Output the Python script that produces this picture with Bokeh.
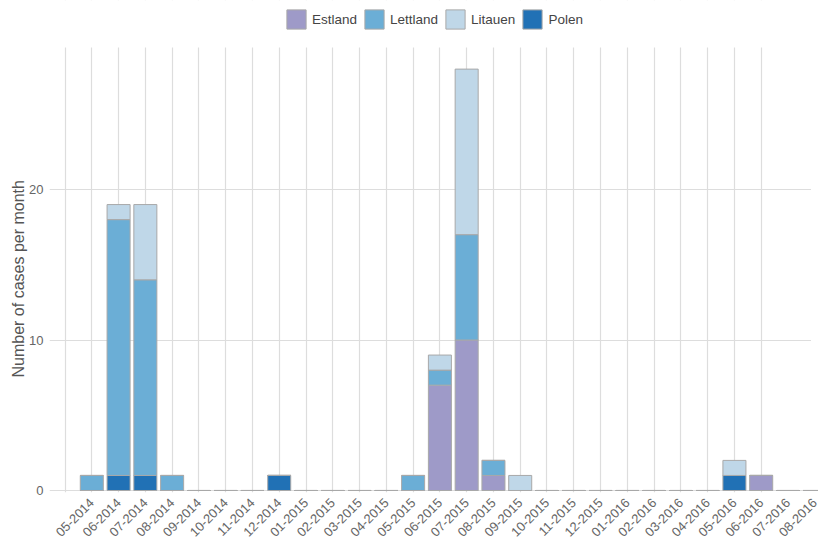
from math import pi
from bokeh.plotting import figure
from bokeh.models import Range1d, FixedTicker, Legend, LegendItem, ColumnDataSource, Title, BoxAnnotation
from bokeh.embed import file_html
from bokeh.resources import INLINE

months = ["05-2014", "06-2014", "07-2014", "08-2014", "09-2014", "10-2014", "11-2014",
          "12-2014", "01-2015", "02-2015", "03-2015", "04-2015", "05-2015", "06-2015",
          "07-2015", "08-2015", "09-2015", "10-2015", "11-2015", "12-2015", "01-2016",
          "02-2016", "03-2016", "04-2016", "05-2016", "06-2016", "07-2016", "08-2016"]
estland  = [0, 0, 0, 0, 0, 0, 0, 0, 0, 0, 0, 0, 0, 7, 10, 1, 0, 0, 0, 0, 0, 0, 0, 0, 0, 1, 0, 0]
lettland = [1, 17, 13, 1, 0, 0, 0, 0, 0, 0, 0, 0, 1, 1, 7, 1, 0, 0, 0, 0, 0, 0, 0, 0, 0, 0, 0, 0]
litauen  = [0, 1, 5, 0, 0, 0, 0, 0, 0, 0, 0, 0, 0, 1, 11, 0, 1, 0, 0, 0, 0, 0, 0, 0, 1, 0, 0, 0]
polen    = [0, 1, 1, 0, 0, 0, 0, 1, 0, 0, 0, 0, 0, 0, 0, 0, 0, 0, 0, 0, 0, 0, 0, 0, 1, 0, 0, 0]
y_ticks = [0, 10, 20]

colors = {"Estland": "#9e9ac8", "Lettland": "#6baed6", "Litauen": "#bfd7e8", "Polen": "#2171b5"}
FONT = "Liberation Sans"

x = list(range(len(months)))
src = ColumnDataSource(dict(x=x, Estland=estland, Lettland=lettland, Litauen=litauen, Polen=polen))

W, H = 818, 543
BL, BB = 49, 51
FH = H - BB
X0, X1 = -1.58, 27.14
Y0, Y1 = -0.133, 32.56
GRID_TOP, GRID_RIGHT = 29.43, 26.86

p = figure(width=W, height=H, output_backend="svg", toolbar_location=None,
           x_range=Range1d(X0, X1), y_range=Range1d(Y0, Y1),
           min_border_left=BL, min_border_right=0, min_border_top=0, min_border_bottom=BB)
p.outline_line_color = None
p.background_fill_color = "white"

stack = ["Polen", "Estland", "Lettland", "Litauen"]
rs = p.vbar_stack(stack, x="x", width=0.86, source=src,
                  color=[colors[s] for s in stack], line_color="#a8a8a8", line_width=1)
rmap = dict(zip(stack, rs))

# hide grid lines above the plotting area (legend zone) and right of the panel
p.add_layout(BoxAnnotation(left=X0, right=X1, bottom=GRID_TOP, top=Y1,
                           fill_color="white", fill_alpha=1, line_color=None, line_alpha=0))
p.add_layout(BoxAnnotation(left=GRID_RIGHT, right=X1, bottom=0.5, top=Y1,
                           fill_color="white", fill_alpha=1, line_color=None, line_alpha=0))

legend = Legend(items=[LegendItem(label=s, renderers=[rmap[s]]) for s in ["Estland", "Lettland", "Litauen", "Polen"]],
                orientation="horizontal", location=(235, FH - 31))
legend.glyph_width = 24
legend.glyph_height = 24
legend.label_standoff = 4
legend.spacing = 5
legend.padding = 0
legend.margin = 0
legend.label_text_font = FONT
legend.label_text_font_size = "13.5px"
legend.label_text_color = "#444444"
legend.border_line_color = None
legend.background_fill_alpha = 0
p.add_layout(legend, "center")

# x axis
p.xaxis.ticker = FixedTicker(ticks=x)
p.xaxis.major_label_overrides = {i: m for i, m in zip(x, months)}
p.xaxis.major_label_orientation = pi / 4
p.xaxis.axis_line_color = None
p.xaxis.major_tick_line_color = None
p.xaxis.minor_tick_line_color = None
p.xaxis.major_label_standoff = 2
p.xaxis.major_label_text_font = FONT
p.xaxis.major_label_text_font_size = "13px"
p.xaxis.major_label_text_color = "#666666"

p.xgrid.ticker = FixedTicker(ticks=[i - 1 for i in x[:-1]])
p.xgrid.grid_line_color = "#dddddd"
p.xgrid.grid_line_width = 1.2

# y axis
p.yaxis.ticker = FixedTicker(ticks=y_ticks)
p.yaxis.axis_line_color = None
p.yaxis.major_tick_line_color = None
p.yaxis.minor_tick_line_color = None
p.yaxis.major_label_standoff = 0
p.yaxis.major_label_text_font = FONT
p.yaxis.major_label_text_font_size = "13px"
p.yaxis.major_label_text_color = "#666666"

ytitle = Title(text="Number of cases per month", align="left", offset=115,
               text_font=FONT, text_font_size="16px", text_font_style="normal",
               text_color="#555555", standoff=0)
p.add_layout(ytitle, "left")

p.ygrid.ticker = FixedTicker(ticks=y_ticks)
p.ygrid.grid_line_color = "#dddddd"
p.ygrid.grid_line_width = 1.2

open("out.html", "w").write(file_html(p, INLINE))
